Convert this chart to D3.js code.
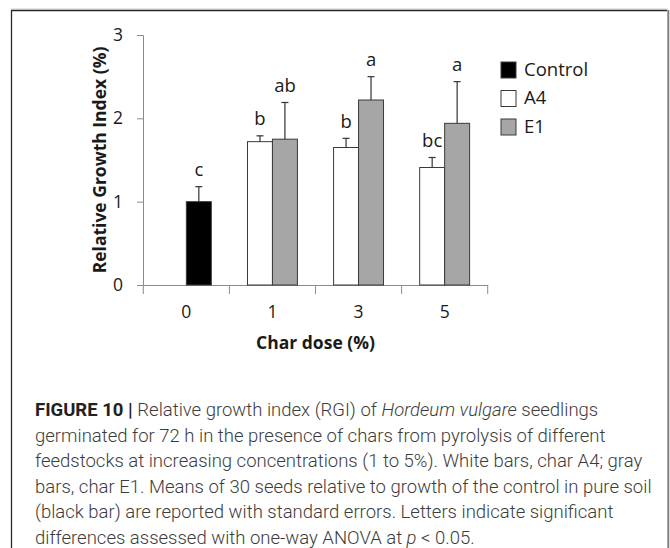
<!DOCTYPE html>
<html>
<head>
<meta charset="utf-8">
<script src="https://cdn.jsdelivr.net/npm/d3@7"></script>
<style>
  html, body { margin: 0; padding: 0; background: #fff; }
  svg { display: block; }
</style>
</head>
<body>
<div id="chart"></div>
<script>
// data
const doses = ["0", "1", "3", "5"];
const slots = ["A4", "E1"];

const controlMean = [1.00];
const controlErr = [0.18];
const controlLetter = ["c"];

// doses 1, 3, 5
const a4Mean = [1.72, 1.65, 1.41];
const a4Err = [0.07, 0.11, 0.12];
const a4Letters = ["b", "b", "bc"];

const e1Mean = [1.75, 2.22, 1.94];
const e1Err = [0.44, 0.28, 0.50];
const e1Letters = ["ab", "a", "a"];

const yTicks = [0, 1, 2, 3];
const legendNames = ["Control", "A4", "E1"];

const captionLines = [
    [["FIGURE 10 | ", "bold"], ["Relative growth index (RGI) of ", ""], ["Hordeum vulgare", "italic"], [" seedlings", ""]],
    [["germinated for 72 h in the presence of chars from pyrolysis of different", ""]],
    [["feedstocks at increasing concentrations (1 to 5%). White bars, char A4; gray", ""]],
    [["bars, char E1. Means of 30 seeds relative to growth of the control in pure soil", ""]],
    [["(black bar) are reported with standard errors. Letters indicate significant", ""]],
    [["differences assessed with one-way ANOVA at ", ""], ["p", "italic"], [" < 0.05.", ""]]
];

const colors = { Control: "#000000", A4: "#ffffff", E1: "#a6a6a6" };

// build bar rows; the control sits in the second slot of dose 0
let rows = [{ dose: "0", slot: "E1", series: "Control", mean: controlMean[0], err: controlErr[0], letter: controlLetter[0] }];
doses.slice(1).forEach((d, i) => {
    rows.push({ dose: d, slot: "A4", series: "A4", mean: a4Mean[i], err: a4Err[i], letter: a4Letters[i] });
    rows.push({ dose: d, slot: "E1", series: "E1", mean: e1Mean[i], err: e1Err[i], letter: e1Letters[i] });
});

const W = 670, H = 548;
const svg = d3.select("#chart").append("svg").attr("width", W).attr("height", H);

// frame
svg.append("line").attr("x1", 11).attr("x2", 668).attr("y1", 9).attr("y2", 9)
    .attr("stroke", "#d0d0d0").attr("stroke-width", 1);
svg.append("path").attr("d", "M11.5,560V10.5H667")
    .attr("fill", "none").attr("stroke", "#2a2a2a").attr("stroke-width", 1.3);
svg.append("line").attr("x1", 668.3).attr("x2", 668.3).attr("y1", 10).attr("y2", 560)
    .attr("stroke", "#808080").attr("stroke-width", 2);

const chartFont = "'Open Sans', 'Noto Sans', sans-serif";
const inkColor = "#1a1a1a";
const axisColor = "#8c8c8c";

// scales
var x = d3.scaleBand().domain(doses).range([143.3, 487.7]).paddingInner(0.42).paddingOuter(0.21);
var xs = d3.scaleBand().domain(slots).range([0, x.bandwidth()]);
var y = d3.scaleLinear().domain([0, 3]).range([285, 35]);

var g = svg.append("g");

// y axis
var yAxis = g.append("g").attr("transform", "translate(143,0)")
    .call(d3.axisLeft(y).tickValues(yTicks).tickSize(6).tickPadding(14).tickFormat(d3.format("d")));
yAxis.select(".domain").attr("stroke", axisColor);
yAxis.selectAll(".tick line").attr("stroke", axisColor);
yAxis.selectAll(".tick text").attr("font-family", chartFont).attr("font-size", 17.5).attr("fill", inkColor);

// x axis
var xAxis = g.append("g").attr("transform", "translate(0,285)")
    .call(d3.axisBottom(x).tickSize(0).tickPadding(21));
xAxis.select(".domain").attr("stroke", axisColor);
xAxis.selectAll(".tick text").attr("font-family", chartFont).attr("font-size", 17.5).attr("fill", inkColor);

// category boundary ticks
var edges = doses.map(d => x(d) - x.step() * x.paddingOuter());
edges.push(x.range()[1]);
xAxis.selectAll("line.edge").data(edges).enter().append("line")
    .attr("class", "edge")
    .attr("x1", d => d).attr("x2", d => d)
    .attr("y1", 0).attr("y2", 9)
    .attr("stroke", axisColor);

// bars
g.selectAll("rect.bar").data(rows).enter().append("rect")
    .attr("class", "bar")
    .attr("x", d => x(d.dose) + xs(d.slot))
    .attr("y", d => y(d.mean))
    .attr("width", xs.bandwidth())
    .attr("height", d => y(0) - y(d.mean))
    .attr("fill", d => colors[d.series])
    .attr("stroke", "#3a3a3a")
    .attr("stroke-width", 1);

// error bars (upper only)
var capW = 7;
var eb = g.selectAll("g.err").data(rows).enter().append("g").attr("class", "err");
eb.append("line")
    .attr("x1", d => x(d.dose) + xs(d.slot) + xs.bandwidth() / 2)
    .attr("x2", d => x(d.dose) + xs(d.slot) + xs.bandwidth() / 2)
    .attr("y1", d => y(d.mean))
    .attr("y2", d => y(d.mean + d.err))
    .attr("stroke", "#333").attr("stroke-width", 1.2);
eb.append("line")
    .attr("x1", d => x(d.dose) + xs(d.slot) + xs.bandwidth() / 2 - capW / 2)
    .attr("x2", d => x(d.dose) + xs(d.slot) + xs.bandwidth() / 2 + capW / 2)
    .attr("y1", d => y(d.mean + d.err))
    .attr("y2", d => y(d.mean + d.err))
    .attr("stroke", "#333").attr("stroke-width", 1.2);

// significance letters
g.selectAll("text.letter").data(rows).enter().append("text")
    .attr("class", "letter")
    .attr("x", d => x(d.dose) + xs(d.slot) + xs.bandwidth() / 2)
    .attr("y", d => y(d.mean + d.err) - 10.5)
    .attr("text-anchor", "middle")
    .attr("font-family", chartFont).attr("font-size", 18.5).attr("fill", inkColor)
    .text(d => d.letter);

// axis titles
g.append("text")
    .attr("x", (x.range()[0] + x.range()[1]) / 2).attr("y", 349)
    .attr("text-anchor", "middle")
    .attr("font-family", chartFont).attr("font-size", 17.5).attr("font-weight", "bold").attr("fill", inkColor)
    .text("Char dose (%)");
g.append("text")
    .attr("transform", "translate(106,160) rotate(-90)")
    .attr("text-anchor", "middle")
    .attr("font-family", chartFont).attr("font-size", 17.5).attr("font-weight", "bold").attr("fill", inkColor)
    .text("Relative Growth Index (%)");

// legend
var legend = g.append("g").attr("transform", "translate(501,62)");
var li = legend.selectAll("g").data(legendNames).enter().append("g")
    .attr("transform", (d, i) => `translate(0,${i * 28.5})`);
li.append("rect").attr("width", 15).attr("height", 16)
    .attr("fill", d => colors[d]).attr("stroke", "#3a3a3a").attr("stroke-width", 1);
li.append("text").attr("x", 23).attr("y", 13.5)
    .attr("font-family", chartFont).attr("font-size", 18.5).attr("fill", inkColor)
    .text(d => d);

// caption
var capFont = "Roboto, 'Liberation Sans', sans-serif";
var cap = svg.append("g").attr("font-family", capFont).attr("fill", "#3c3c3c");
var capSize = 17;
captionLines.forEach((line, i) => {
    var t = cap.append("text").attr("x", 35).attr("y", 416 + i * 25.6)
        .attr("font-size", capSize).attr("font-weight", 300);
    line.forEach(part => {
        var s = t.append("tspan").text(part[0]);
        if (part[1] === "bold") s.attr("font-weight", 700).attr("fill", "#222");
        if (part[1] === "italic") s.attr("font-style", "italic");
    });
});
// fit caption size to the widest line (about 617px in the figure)
var widest = cap.selectAll("text").nodes()[3].getComputedTextLength();
capSize = capSize * 617 / widest;
cap.selectAll("text").attr("font-size", capSize);
</script>
</body>
</html>
